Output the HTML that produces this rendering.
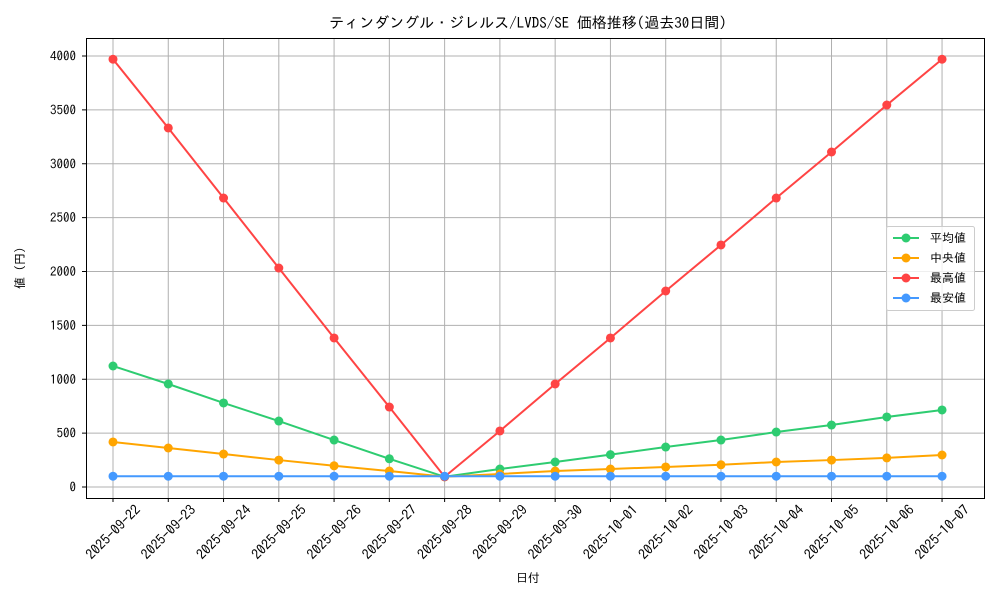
<!DOCTYPE html>
<html><head><meta charset="utf-8"><style>body{margin:0;background:#fff}svg{display:block}text{font-family:"IPAGothic","Noto Sans CJK JP",sans-serif;fill:#000}</style></head><body>
<svg width="1000" height="600" xmlns="http://www.w3.org/2000/svg">
<rect width="1000" height="600" fill="#fff"/>
<text x="528" y="28" font-size="15" text-anchor="middle">ティンダングル・ジレルス/LVDS/SE 価格推移(過去30日間)</text>
<g id="grid" stroke="#b0b0b0" stroke-width="1"></g>
<rect x="86.5" y="38.5" width="898" height="460" fill="none" stroke="#000" stroke-width="1"/>
<g id="axes" font-size="13"></g>
<g id="series"></g>
<text x="528" y="582" font-size="12" text-anchor="middle">日付</text>
<text x="0" y="0" font-size="12" text-anchor="middle" transform="translate(24,268) rotate(-90)">値 (円)</text>
<g>
<rect x="886.5" y="226.5" width="88" height="84" fill="#fff" fill-opacity="0.8" stroke="#ccc" rx="2"/>
<line x1="893" y1="238" x2="919" y2="238" stroke="#2ecc71" stroke-width="2"/><circle cx="906" cy="238" r="4.5" fill="#2ecc71"/><text x="930" y="242" font-size="12">平均値</text>
<line x1="893" y1="258" x2="919" y2="258" stroke="#ffa500" stroke-width="2"/><circle cx="906" cy="258" r="4.5" fill="#ffa500"/><text x="930" y="262" font-size="12">中央値</text>
<line x1="893" y1="278" x2="919" y2="278" stroke="#ff4444" stroke-width="2"/><circle cx="906" cy="278" r="4.5" fill="#ff4444"/><text x="930" y="282" font-size="12">最高値</text>
<line x1="893" y1="298" x2="919" y2="298" stroke="#4499ff" stroke-width="2"/><circle cx="906" cy="298" r="4.5" fill="#4499ff"/><text x="930" y="302" font-size="12">最安値</text>
</g>
<script>
const ns="http://www.w3.org/2000/svg";
const X=i=>113+i*55.27, Y=v=>487-v*0.10775;
const dates=["2025-09-22","2025-09-23","2025-09-24","2025-09-25","2025-09-26","2025-09-27","2025-09-28","2025-09-29","2025-09-30","2025-10-01","2025-10-02","2025-10-03","2025-10-04","2025-10-05","2025-10-06","2025-10-07"];
function el(t,a,p,txt){const e=document.createElementNS(ns,t);for(const k in a)e.setAttribute(k,a[k]);if(txt)e.textContent=txt;p.appendChild(e);return e;}
const g=document.getElementById("grid"),ax=document.getElementById("axes"),s=document.getElementById("series");
for(let v=0;v<=4000;v+=500){const y=Y(v);el("line",{x1:86,x2:985,y1:y,y2:y},g);el("line",{x1:82,x2:86,y1:y,y2:y,stroke:"#000"},ax);el("text",{x:76,y:y+4.5,"text-anchor":"end"},ax,String(v));}
dates.forEach((d,i)=>{const x=X(i);el("line",{x1:x,x2:x,y1:38,y2:498},g);el("line",{x1:x,x2:x,y1:498,y2:502,stroke:"#000"},ax);el("text",{x:0,y:0,"text-anchor":"middle","dominant-baseline":"central","font-size":14,transform:`translate(${x},${532}) rotate(-45)`},ax,d);});
const data=[
["#2ecc71",[1123,956,780,612,436,262,95,167,232,300,371,436,510,575,650,715]],
["#ffa500",[418,362,306,250,197,148,95,121,148,167,186,206,232,250,270,297]],
["#ff4444",[3970,3332,2682,2032,1383,742,95,520,956,1383,1819,2246,2682,3109,3545,3970]],
["#4499ff",Array(16).fill(100)]];
data.forEach(([c,v])=>{el("polyline",{points:v.map((a,i)=>X(i)+","+Y(a)).join(" "),fill:"none",stroke:c,"stroke-width":2},s);v.forEach((a,i)=>el("circle",{cx:X(i),cy:Y(a),r:4.5,fill:c},s));});
</script>
</svg>
</body></html>
